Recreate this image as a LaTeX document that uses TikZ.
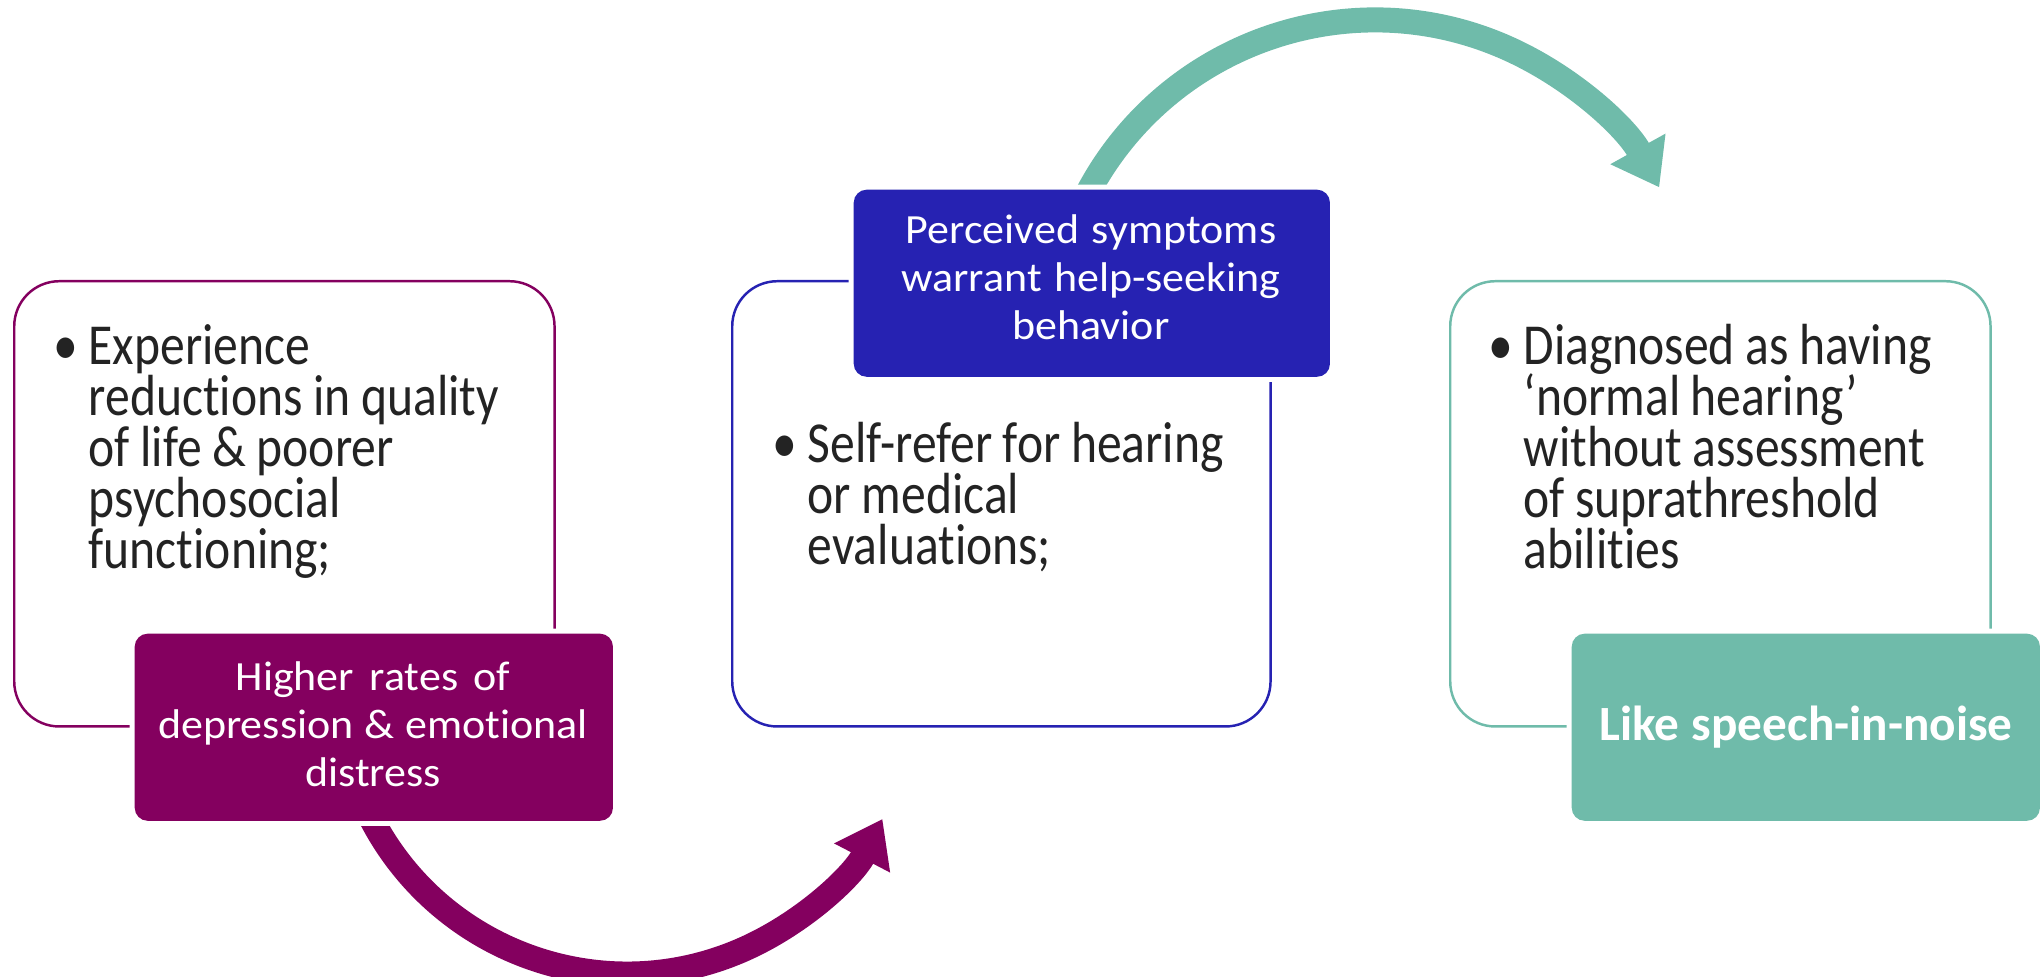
\documentclass[tikz,border=0pt]{standalone}
\usepackage{fontspec}
\setmainfont{Carlito}[Ligatures={TeX,NoCommon}]
\newfontfamily\bodyface{Carlito}[FakeStretch=0.855, Ligatures={TeX,NoCommon}]
\newfontfamily\capface{Carlito}[FakeStretch=1.06, Ligatures={TeX,NoCommon}]
\usetikzlibrary{arrows.meta}
\definecolor{plum}{RGB}{132,0,95}
\definecolor{indigo}{RGB}{38,34,178}
\definecolor{seagreen}{RGB}{111,187,170}
\definecolor{ink}{RGB}{35,35,35}
% fixed line pitch, whatever the glyph heights
\newcommand{\bodyfont}{\bodyface\fontsize{16.5}{14.5}\selectfont\lineskiplimit-100pt\relax}
\newcommand{\bannerfont}{\capface\fontsize{11.8}{13.65}\selectfont\lineskiplimit-100pt\relax}
\newcommand{\tagfont}{\fontsize{14}{16}\selectfont\bfseries}
% bullet in the left margin, with tighter word spaces for the list text
\newcommand{\itemmark}{\spaceskip=3pt\relax\xspaceskip=3pt\relax\llap{\textbullet\hspace{0.1cm}}}
% the font's own word space in the banners
\newcommand{\plainspaces}{\spaceskip=0pt\relax\xspaceskip=0pt\relax}

\begin{document}
\begin{tikzpicture}[x=0.01cm, y=-0.01cm,
  outline/.style={draw=#1, line width=0.7pt, rounded corners=0.45cm, anchor=north west,
    inner sep=0pt, minimum width=5.4cm, minimum height=4.45cm},
  banner/.style={fill=#1, rounded corners=0.13cm, anchor=north west, inner sep=0pt,
    minimum height=1.87cm, preaction={draw=white, line width=0.1cm}},
  bullets/.style={anchor=base west, inner sep=0pt, text width=4.6cm, align=left, text=ink,
    font=\bodyfont},
  caption/.style={anchor=base, inner sep=0pt, text width=4.6cm, align=center, text=white,
    font=\bannerfont},
  flow/.style={draw=#1, line width=0.25cm, -{Triangle[length=0.44cm,width=0.6cm]}},
]
\useasboundingbox (0,0) rectangle (2041,977);

% outlined panels
\node[outline=plum] (lframe) at (13,280) {};
\node[outline=indigo, minimum width=5.38cm] (mframe) at (731,280) {};
\node[outline=seagreen] (rframe) at (1449,280) {};

% curved arrows between the stages
\coordinate (lowhub) at (627,686);
\coordinate (highhub) at (1375,345);
\draw[flow=plum] (lowhub) ++(155:288) arc[start angle=155, end angle=27.5, radius=288];
\draw[flow=seagreen] (highhub) ++(205:325) arc[start angle=205, end angle=331, radius=325];

% filled banners
\node[banner=plum, minimum width=4.78cm] (lbanner) at (134,633) {};
\node[banner=indigo, minimum width=4.76cm] (mbanner) at (853,189) {};
\node[banner=seagreen, minimum width=4.68cm] (rbanner) at (1571,633) {};

% bullet texts
\node[bullets] (ltext) at (88,365) {\itemmark Experience\\reductions in quality\\of life \& poorer\\psychosocial\\functioning;};
\node[bullets] (mtext) at (807,463) {\itemmark Self-refer for hearing\\or medical\\evaluations;};
\node[bullets] (rtext) at (1523,365) {\itemmark Diagnosed as having\\‘normal hearing’\\without assessment\\of suprathreshold\\abilities};

% banner captions
\node[caption] (lcap) at (373,691) {\plainspaces Higher rates of\\depression \& emotional\\distress};
\node[caption] (mcap) at (1091,244) {\plainspaces Perceived symptoms\\warrant help-seeking\\behavior};
\node[caption, font=\tagfont] (rcap) at (1806,741) {\plainspaces Like speech-in-noise};
\end{tikzpicture}
\end{document}
